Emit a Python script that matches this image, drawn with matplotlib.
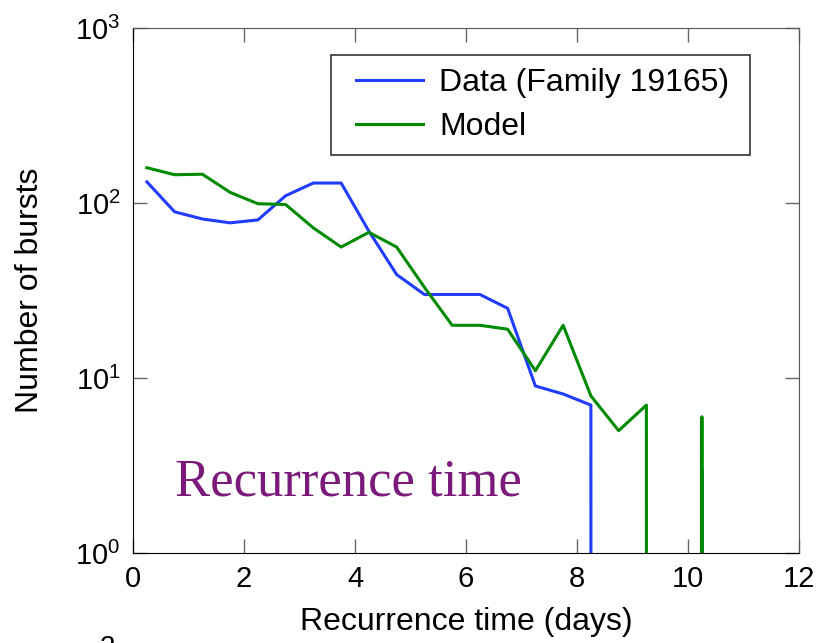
import matplotlib
matplotlib.use("Agg")
import matplotlib.pyplot as plt
from matplotlib.patches import Rectangle

plt.rcParams['font.family'] = ['Liberation Sans', 'DejaVu Sans']
plt.rcParams['mathtext.fontset'] = 'custom'
plt.rcParams['mathtext.rm'] = 'Liberation Sans'

# recurrence time bins (days), centres of 0.5-day bins
days = [0.25, 0.75, 1.25, 1.75, 2.25, 2.75, 3.25, 3.75, 4.25, 4.75, 5.25, 5.75,
        6.25, 6.75, 7.25, 7.75, 8.25, 8.75, 9.25, 9.75, 10.25, 10.75, 11.25, 11.75]
data_counts = [132, 89, 81, 77, 80, 110, 130, 130, 69, 39, 30, 30,
               30, 25, 9, 8.1, 7, 0, 0, 0, 3, 0, 0, 0]
model_counts = [159, 145, 146, 115, 99, 98, 72, 56, 68, 56, 33, 20,
                20, 19, 11, 20, 7.9, 5, 7, 0, 6, 0, 0, 0]

xticks = [0, 2, 4, 6, 8, 10, 12]
yticks = [1, 10, 100, 1000]

fig = plt.figure(figsize=(8.18, 6.43), dpi=100)
ax = fig.add_axes([0.1626, 0.1400, 0.8142, 0.8165])

ax.plot(days, data_counts, color='#1f3cff', lw=2.2, label='Data (Family 19165)')
ax.plot(days, model_counts, color='#008a00', lw=2.2, label='Model')

ax.set_yscale('log')
ax.set_xlim(0, 12)
ax.set_ylim(1, 1000)
ax.set_xticks(xticks)
ax.set_yticks(yticks)
ax.minorticks_off()
ax.tick_params(direction='in', length=10, width=1, color='#666666',
               top=True, right=True, labelsize=21, pad=9)
for side in ['top', 'right']:
    ax.spines[side].set_color('#555555')
for side in ['left', 'bottom']:
    ax.spines[side].set_color('black')

ax.set_xlabel('Recurrence time (days)', fontsize=23, labelpad=10)
ax.set_ylabel('Number of bursts', fontsize=23, labelpad=22)

# legend box drawn separately so its padding can match
ax.add_patch(Rectangle((0.2973, 0.7581), 0.6291, 0.1905, transform=ax.transAxes,
                       facecolor='white', edgecolor='#333333', lw=1.2, zorder=4))
ax.legend(loc='center left', bbox_to_anchor=(0.3348, 0.8533), borderaxespad=0,
          borderpad=0, fontsize=23, frameon=False,
          handlelength=2.1, handletextpad=0.5, labelspacing=0.45).set_zorder(5)

ax.text(0.063, 0.11, 'Recurrence time', transform=ax.transAxes,
        fontsize=38, family='Liberation Serif', color='#7b1a7b', va='baseline')

fig.text(100 / 818, -0.008, '2', fontsize=20, va='center', ha='left')

fig.savefig('out.png', dpi=100)
